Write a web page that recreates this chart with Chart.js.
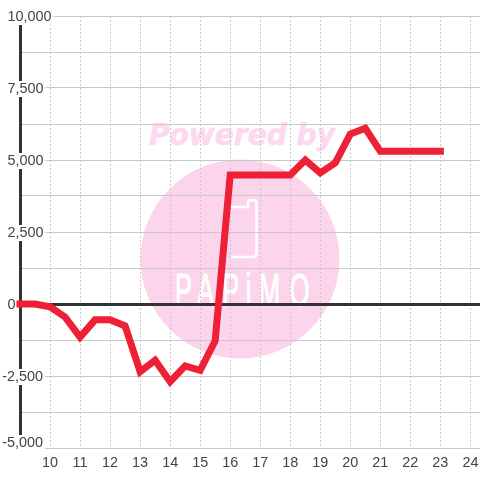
<!DOCTYPE html>
<html>
<head>
<meta charset="utf-8">
<script src="https://cdn.jsdelivr.net/npm/chart.js@4/dist/chart.umd.min.js"></script>
<style>
  html, body { margin: 0; background: #fff; }
  #wrap { position: relative; width: 480px; height: 480px; overflow: hidden; }
  #mark { position: absolute; left: 0; top: 0; }
  #priceChart { position: absolute; left: 0; top: 0; }
</style>
</head>
<body>
<div id="wrap">
  <svg id="mark" width="480" height="480" xmlns="http://www.w3.org/2000/svg">
    <text x="149" y="145" font-family="DejaVu Sans" font-size="30" font-weight="bold" font-style="italic" fill="#fcd9ee" stroke="#fcd9ee" stroke-width="0.6" textLength="186" lengthAdjust="spacingAndGlyphs">Powered by</text>
    <circle cx="240" cy="259" r="99.5" fill="#fcd5ec"/>
    <path d="M230 207 H248 V203 Q248 200 251 200 H253 Q256.5 200 256.5 203 V253 Q256.5 257 252 257 H230" fill="none" stroke="#fff" stroke-width="2.5"/>
    <g transform="translate(0,306) scale(.55,1)">
      <text x="318 358 404 447 471 527" y="0" font-family="Liberation Sans" font-size="46" fill="#fff" stroke="#fff" stroke-width="1">PAPiMO</text>
    </g>
  </svg>
  <canvas id="priceChart" width="480" height="480"></canvas>
</div>
<script>
const hours = [9, 9.5, 10, 10.5, 11, 11.5, 12, 12.5, 13, 13.5, 14, 14.5, 15, 15.5, 16, 16.5, 17, 17.5, 18, 18.5, 19, 19.5, 20, 20.5, 21, 21.5, 22, 22.5, 23];
const values = [0, 0, -100, -450, -1150, -550, -550, -760, -2350, -1950, -2700, -2150, -2300, -1280, 4480, 4480, 4480, 4480, 4480, 5000, 4550, 4900, 5900, 6100, 5300, 5300, 5300, 5300, 5300];
const yLabels = { '10000': '10,000', '7500': '7,500', '5000': '5,000', '2500': '2,500', '0': '0', '-2500': '-2,500', '-5000': '-5,000' };

const textColor = '#444';
const font = '14.4px "Liberation Sans"';

// y labels sit on top of the axis with a white box behind them
const yLabelPlugin = {
  id: 'yLabels',
  beforeDatasetsDraw(chart) {
    const ctx = chart.ctx;
    const scale = chart.scales.y;
    ctx.save();
    ctx.font = font;
    ctx.textBaseline = 'middle';
    ctx.textAlign = 'left';
    scale.ticks.forEach(t => {
      const label = yLabels[String(t.value)];
      if (!label) return;
      let y = scale.getPixelForValue(t.value) + 1;
      if (t.value === scale.min) y -= 6;
      const w = ctx.measureText(label).width;
      const x = t.value < 0 ? 7 - ctx.measureText('-').width : 7.5;
      ctx.fillStyle = '#fff';
      ctx.fillRect(x - 2, y - 8, w + 4, 16);
      ctx.fillStyle = textColor;
      ctx.fillText(label, x, y);
    });
    ctx.restore();
  }
};

new Chart(document.getElementById('priceChart').getContext('2d'), {
  type: 'line',
  data: {
    labels: hours,
    datasets: [{
      data: hours.map((h, i) => ({ x: h, y: values[i] })),
      borderColor: '#ee2036',
      borderWidth: 7,
      borderCapStyle: 'square',
      borderJoinStyle: 'miter',
      pointRadius: 0,
      tension: 0,
      clip: false
    }]
  },
  options: {
    responsive: false,
    animation: false,
    layout: { padding: { left: 20, top: 16, right: 0, bottom: 0 } },
    plugins: { legend: { display: false }, tooltip: { enabled: false } },
    scales: {
      x: {
        type: 'linear',
        min: 9,
        max: 24.32,
        afterFit(scale) { scale.height = 32; scale.paddingRight = 0; scale.paddingLeft = 0; },
        border: { display: false, dash: [2, 2] },
        grid: {
          drawTicks: false,
          color: ctx => ctx.tick.value === 9 ? 'rgba(0,0,0,0)' : '#c8c8c8'
        },
        ticks: {
          stepSize: 1,
          includeBounds: false,
          autoSkip: false,
          maxRotation: 0,
          padding: 6,
          color: textColor,
          font: { family: 'Liberation Sans', size: 14.4 },
          callback: v => v === 9 ? '' : String(v)
        }
      },
      y: {
        min: -5000,
        max: 10000,
        afterFit(scale) { scale.width = 0; },
        border: { display: true, color: '#333', width: 3 },
        grid: {
          drawTicks: false,
          color: ctx => ctx.tick.value === 0 ? '#333' : '#c8c8c8',
          lineWidth: ctx => ctx.tick.value === 0 ? 3 : 1
        },
        ticks: { display: false, stepSize: 1250 }
      }
    }
  },
  plugins: [yLabelPlugin]
});
</script>
</body>
</html>
